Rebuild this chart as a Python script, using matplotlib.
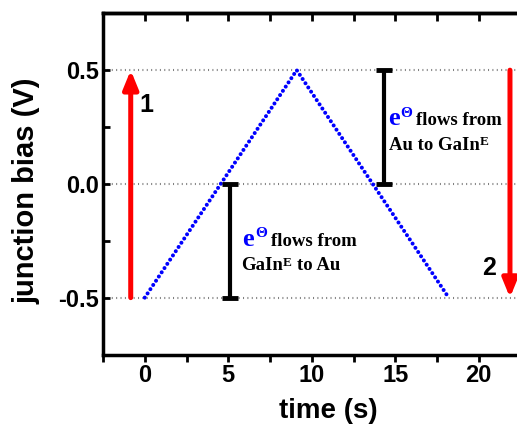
import matplotlib
matplotlib.use('Agg')
import matplotlib.pyplot as plt

# данные
time_pts = [0, 9.1, 18.2]
bias_pts = [-0.5, 0.5, -0.5]
grid_levels = [-0.5, 0.0, 0.5]
arrow_x = [-0.84, 21.87]          # стрелки 1 (вверх) и 2 (вниз)
arrow_from = [-0.5, 0.5]
arrow_to = [0.5, -0.5]
arrow_labels = ['1', '2']
arrow_label_xy = [(0.12, 0.346), (20.6, -0.368)]
bar_x = [5.09, 14.31]
bar_lo = [-0.5, 0.0]
bar_hi = [0.0, 0.5]
xticks = [0, 5, 10, 15, 20]
yticks = [-0.5, 0.0, 0.5]

W, H, DPI = 517, 424, 100
fig = plt.figure(figsize=(W / DPI, H / DPI), dpi=DPI)
ax = fig.add_axes([103 / W, 1 - 354.5 / H, 417.5 / W, 341.2 / H])
ax.set_xlim(-2.5, 22.5)
ax.set_ylim(-0.75, 0.75)

# серые пунктирные уровни
for lv in grid_levels:
    ax.axhline(lv, color='#808080', lw=1.5, linestyle=(0, (0.5, 1.6)), zorder=1)

# треугольная развертка напряжения
ax.plot(time_pts, bias_pts, color='blue', lw=2.9, linestyle=(0, (0.01, 1.25)),
        dash_capstyle='round', zorder=3)

# красные стрелки
for x, y0, y1 in zip(arrow_x, arrow_from, arrow_to):
    ax.annotate('', xy=(x, y1), xytext=(x, y0),
                arrowprops=dict(arrowstyle='-|>,head_length=1.1,head_width=0.45',
                                color='red', lw=3.6, shrinkA=0, shrinkB=0),
                zorder=4)
for lab, (x, y) in zip(arrow_labels, arrow_label_xy):
    ax.text(x, y, lab, fontsize=18, fontweight='bold', family='Liberation Sans',
            ha='center', va='center')

# черные отрезки с засечками
for x, lo, hi in zip(bar_x, bar_lo, bar_hi):
    ax.errorbar([x], [(lo + hi) / 2], yerr=[(hi - lo) / 2], color='black',
                elinewidth=3, capsize=6, capthick=3.5, fmt='none', zorder=4)

renderer = fig.canvas.get_renderer()


def rich_line(x, y, pieces):
    dx = 0
    for txt, size, color, rise, gap in pieces:
        t = ax.annotate(txt, (x, y), xytext=(dx + gap, rise), textcoords='offset points',
                        fontsize=size, color=color, fontweight='bold',
                        family='Liberation Serif', ha='left', va='baseline', zorder=5)
        dx += gap + t.get_window_extent(renderer).width * 72 / DPI


e_part = [('e', 19, 'blue', 0, 0), ('\u0398', 11, 'blue', 6, 0.5),
          ('flows from', 13.5, 'black', 0, 3)]
rich_line(5.85, -0.272, e_part)
rich_line(5.78, -0.378, [('GaIn', 13.5, 'black', 0, 0), ('E', 9.5, 'black', 3, 0),
                         ('to Au', 13.5, 'black', 0, 3.5)])
rich_line(14.56, 0.257, e_part)
rich_line(14.62, 0.151, [('Au to GaIn', 13.5, 'black', 0, 0), ('E', 9.5, 'black', 3, 0)])

# оси
for s in ax.spines.values():
    s.set_linewidth(2.5)
ax.set_xticks(xticks)
ax.set_yticks(yticks)
ax.set_xticks([x + 2.5 for x in [-5] + xticks], minor=True)
ax.set_yticks([-0.25, 0.25], minor=True)
ax.set_yticklabels(['-0.5', '0.0', '0.5'])
ax.tick_params(axis='x', which='both', direction='out', length=5, width=2, pad=2,
               top=False)
ax.tick_params(axis='y', which='both', direction='in', length=5, width=2, pad=3)
for lab in ax.get_xticklabels() + ax.get_yticklabels():
    lab.set_fontsize(17)
    lab.set_fontweight('bold')
    lab.set_family('Liberation Sans')

# засечки на верхней оси (внутрь)
top = ax.secondary_xaxis('top')
top.set_xticks([x * 2.5 for x in range(-1, 10)])
top.tick_params(direction='in', length=6, width=2, labeltop=False)
top.spines['top'].set_linewidth(2.5)

fig.text(27 / W, 1 - 191 / H, 'junction bias (V)', rotation=90, ha='center', va='center',
         fontsize=21, fontweight='bold', family='Liberation Sans')
fig.text(328 / W, 1 - 411 / H, 'time (s)', ha='center', va='center',
         fontsize=20, fontweight='bold', family='Liberation Sans')

fig.savefig('out.png', dpi=DPI)
